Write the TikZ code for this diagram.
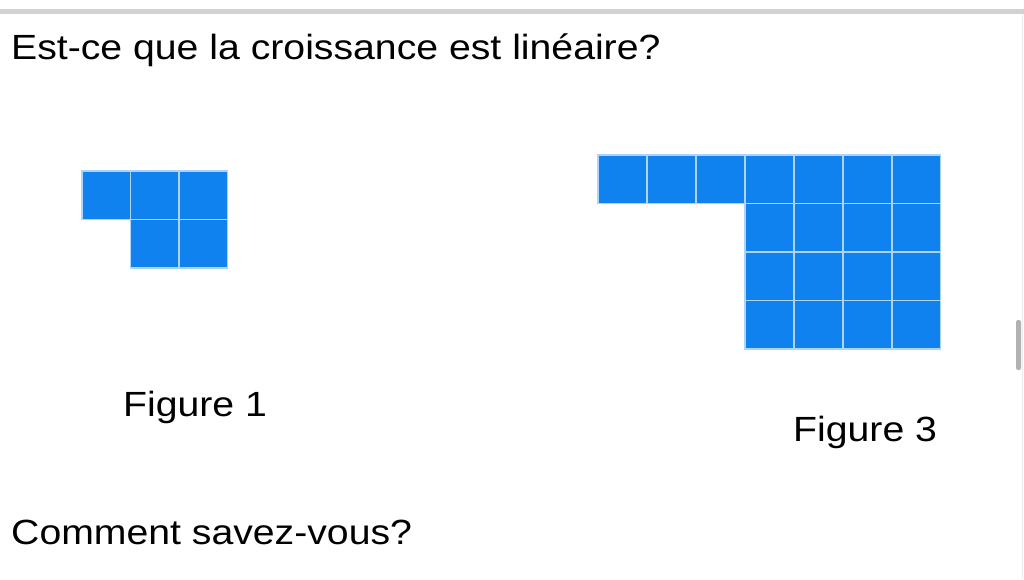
\documentclass[tikz,border=0pt]{standalone}
\usepackage{fontspec}
\setmainfont{Liberation Sans}
\usepackage{graphicx}
\usepackage{xcolor}
\usetikzlibrary{positioning}

\definecolor{bleu}{RGB}{16,130,240}
\definecolor{bleuclair}{RGB}{175,212,250}
\newcommand{\texte}[1]{\scalebox{1.12}[1]{\fontsize{35}{42}\selectfont #1}}

\begin{document}
\begin{tikzpicture}[x=1pt, y=-1pt,
    carre/.style={draw=bleuclair, fill=bleu, line width=1.8pt, minimum width=48.5pt,
        minimum height=48.5pt, inner sep=0pt, anchor=north west},
    etiquette/.style={anchor=base west, inner sep=0pt}]
    \useasboundingbox (0,0) rectangle (1024,579);

    % bord de la page
    \fill[gray!35] (0,9) rectangle (1024,13.5);
    \draw[gray!15, line width=1pt] (1022,13.5) -- (1022,579);
    \fill[gray!60, rounded corners=2pt] (1016,320) rectangle (1021,370);

    \node[etiquette] (question) at (11,59) {\texte{Est-ce que la croissance est linéaire?}};

    % figure 1
    \foreach \i in {0,1,2}
        \node[carre] (fa\i) at (81+48.5*\i,170) {};
    \foreach \i in {1,2}
        \node[carre] (fb\i) at (81+48.5*\i,218.5) {};
    \node[etiquette] (legende1) at (123,416) {\texte{Figure 1}};

    % figure 3
    \foreach \i in {0,...,6}
        \node[carre] (ta\i) at (597+49*\i,154) {};
    \foreach \j in {1,2,3}
        \foreach \i in {3,...,6}
            \node[carre] (t\j\i) at (597+49*\i,154+48.5*\j) {};
    \node[etiquette] (legende3) at (793,441) {\texte{Figure 3}};

    \node[etiquette] (comment) at (11,544) {\texte{Comment savez-vous?}};
\end{tikzpicture}
\end{document}
